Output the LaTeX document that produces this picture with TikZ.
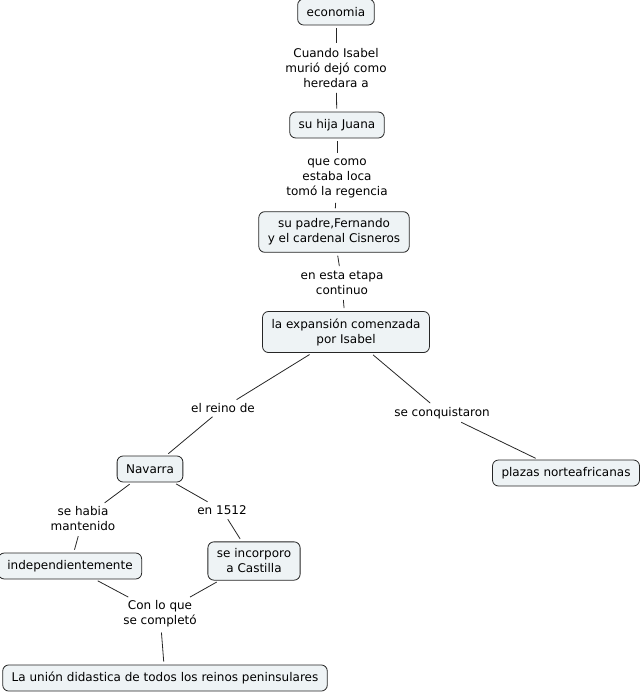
\documentclass[tikz,border=0pt]{standalone}
\usepackage{fontspec}
\setmainfont{DejaVu Sans}
\definecolor{boxfill}{RGB}{238,243,245}
\begin{document}
\begin{tikzpicture}[x=1pt,y=-1pt,
  concept/.style={draw=black!85,fill=boxfill,rounded corners=6pt,line width=0.8pt,
    inner xsep=9pt,inner ysep=7pt,minimum height=26pt,align=center,font=\fontsize{12}{15}\selectfont},
  lbl/.style={inner sep=2pt,align=center,font=\fontsize{12}{15}\selectfont},
  link/.style={draw=black!85,line width=0.8pt,shorten <=3pt,shorten >=3pt}]
\useasboundingbox (0,0) rectangle (641,696);
\node[concept] (eco) at (336,12) {economia};
\node[lbl] (l1) at (336,68) {Cuando Isabel\\murió dejó como\\heredara a};
\node[concept] (juana) at (337,125) {su hija Juana};
\node[lbl] (l2) at (337,178) {que como\\estaba loca\\tomó la regencia};
\node[concept] (padre) at (334,232) {su padre,Fernando\\y el cardenal Cisneros};
\node[lbl] (l3) at (342,283) {en esta etapa\\continuo};
\node[concept] (exp) at (346,332) {la expansión comenzada\\por Isabel};
\node[lbl] (l4) at (223,408) {el reino de};
\node[lbl] (l5) at (442,413) {se conquistaron};
\node[concept] (nav) at (150,469) {Navarra};
\node[concept] (plazas) at (566,473) {plazas norteafricanas};
\node[lbl] (l6) at (83,519) {se habia\\mantenido};
\node[lbl] (l7) at (222,510) {en 1512};
\node[concept] (indep) at (70,566) {independientemente};
\node[concept] (incorp) at (254,561) {se incorporo\\a Castilla};
\node[lbl] (l8) at (160,614) {Con lo que\\se completó};
\node[concept] (union) at (165,678) {La unión didastica de todos los reinos peninsulares};
\draw[link] (eco) -- (l1);
\draw[link] (l1) -- (juana);
\draw[link] (juana) -- (l2);
\draw[link] (l2) -- (padre);
\draw[link] (padre) -- (l3);
\draw[link] (l3) -- (exp);
\draw[link] (exp) -- (l4);
\draw[link] (l4) -- (nav);
\draw[link] (exp) -- (l5);
\draw[link] (l5) -- (plazas);
\draw[link] (nav) -- (l6);
\draw[link] (l6) -- (indep);
\draw[link] (nav) -- (l7);
\draw[link] (l7) -- (incorp);
\draw[link] (indep) -- (l8);
\draw[link] (incorp) -- (l8);
\draw[link] (l8) -- (union);
\end{tikzpicture}
\end{document}
